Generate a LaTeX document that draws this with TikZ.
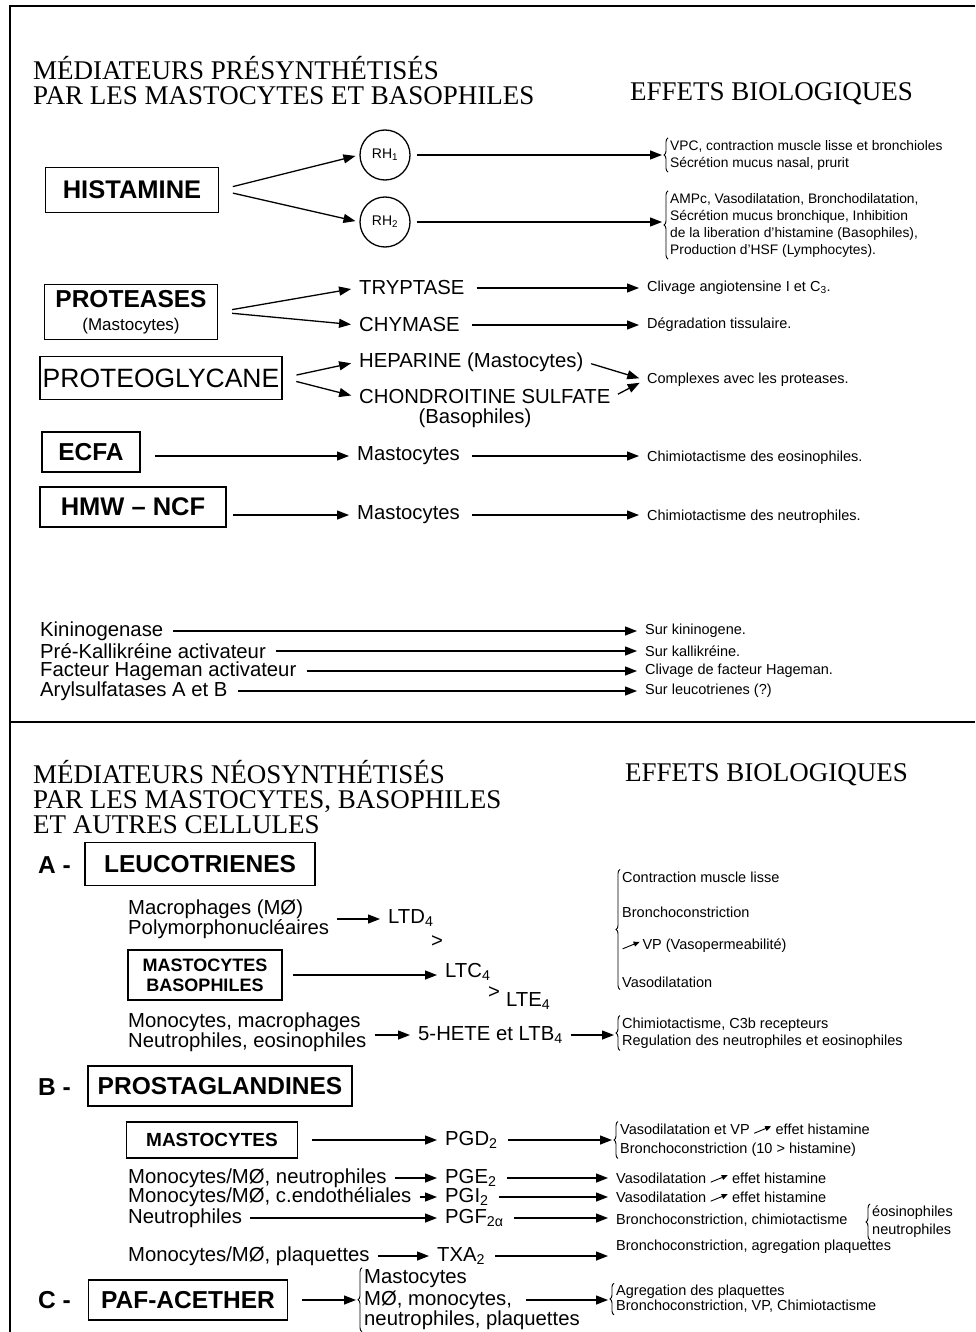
\documentclass[tikz,border=0pt]{standalone}
\usepackage{fontspec}
\setmainfont{Liberation Sans}
\newfontfamily\serifhead{Liberation Serif}
\usetikzlibrary{arrows.meta,calc,decorations.pathreplacing}

% font sizes (1 unit = 1pt = one pixel of the page)
\newcommand\bodysize{\fontsize{20.3}{20}\selectfont}
\newcommand\effsize{\fontsize{14.5}{17}\selectfont}
\newcommand\boxsize{\fontsize{24.5}{26}\selectfont\bfseries}
\newcommand\headsize{\serifhead\fontsize{27}{25}\selectfont}
% small rising arrow inside effect texts
\newcommand\incr{\tikz[baseline=-1pt,x=1pt,y=1pt]\draw[line width=0.9pt,-{Triangle[length=6pt,width=5pt]}] (0,0) -- (17,7);}

\tikzset{
  medbox/.style={draw, line width=1.5pt, inner sep=0pt, font=\boxsize},
  lbl/.style={anchor=west, inner sep=2pt, font=\bodysize},
  eff/.style={anchor=west, inner sep=2pt, font=\effsize, align=left},
  head/.style={anchor=west, inner sep=0pt, align=left, font=\headsize},
  rec/.style={draw, circle, line width=1.3pt, minimum size=50pt, inner sep=0pt,
              font=\fontsize{14}{14}\selectfont},
  flow/.style={-{Triangle[length=12pt,width=9pt]}, line width=1.3pt,
               shorten <=6pt, shorten >=6pt},
  cbrace/.style={decorate, decoration={brace, amplitude=4pt}, line width=0.9pt},
}

\begin{document}
\begin{tikzpicture}[x=1pt, y=-1pt]   % y runs down the page

\useasboundingbox (0,0) rectangle (975,1332);

% ---------------------------------------------------------------
% Frame
\draw[line width=1.8pt] (975,6) -- (10,6) -- (10,1332);
\draw[line width=1.8pt] (10,722) -- (975,722);   % divider

% ---------------------------------------------------------------
% Mediateurs presynthetises
\node[head] (titleA) at (33,81) {MÉDIATEURS PRÉSYNTHÉTISÉS\\PAR LES MASTOCYTES ET BASOPHILES};
\node[head] (effA)   at (630,94) {EFFETS BIOLOGIQUES};

% Histamine and its receptors
\node[medbox, minimum width=173, minimum height=45, font=\fontsize{25.5}{26}\selectfont\bfseries] (hist) at (132,190) {HISTAMINE};
\node[rec] (rhA) at (385,155) {RH\textsubscript{1}};
\node[rec] (rhB) at (385,222) {RH\textsubscript{2}};
\draw[flow, shorten <=14pt, shorten >=4pt] (hist.east) -- (rhA.west);
\draw[flow, shorten <=14pt, shorten >=4pt] (hist.east) -- (rhB.west);

\node[eff, font=\fontsize{13.8}{17}\selectfont] (effRHA) at (668,155) {VPC, contraction muscle lisse et bronchioles\\Sécrétion mucus nasal, prurit};
\node[eff, font=\fontsize{13.8}{17}\selectfont] (effRHB) at (668,225) {AMPc, Vasodilatation, Bronchodilatation,\\Sécrétion mucus bronchique, Inhibition\\de la liberation d'histamine (Basophiles),\\Production d'HSF (Lymphocytes).};
\draw[cbrace] (effRHA.south west) -- (effRHA.north west);
\draw[cbrace] (effRHB.south west) -- (effRHB.north west);
\draw[flow] (rhA.east) -- (rhA.east -| effRHA.west);
\draw[flow] (rhB.east) -- (rhB.east -| effRHB.west);

% Proteases
\node[medbox, minimum width=173, minimum height=55, align=center] (prot) at (131,312)
     {PROTEASES\\[-3pt]{\mdseries\fontsize{17}{17}\selectfont(Mastocytes)}};
\node[lbl] (tryp) at (357,288) {TRYPTASE};
\node[lbl] (chym) at (357,325) {CHYMASE};
\draw[flow, shorten <=14pt] (prot.east) -- (tryp.west);
\draw[flow, shorten <=14pt] (prot.east) -- (chym.west);
\node[eff] (effTryp) at (645,288) {Clivage angiotensine I et C\textsubscript{3}.};
\node[eff] (effChym) at (645,325) {Dégradation tissulaire.};
\draw[flow, shorten <=10pt] (tryp.east) -- (tryp.east -| effTryp.west);
\draw[flow, shorten <=10pt] (chym.east) -- (chym.east -| effChym.west);

% Proteoglycane
\node[medbox, minimum width=242, minimum height=43, inner xsep=2pt,
      font=\fontsize{26.5}{26}\selectfont] (pgly) at (161,378) {PROTEOGLYCANE};
\node[lbl] (hep)  at (357,362) {HEPARINE (Mastocytes)};
\node[lbl] (chon) at (357,397) {CHONDROITINE SULFATE};
\node[lbl, anchor=center] (baso) at (475,418) {(Basophiles)};
\draw[flow, shorten <=14pt] (pgly.east) -- (hep.west);
\draw[flow, shorten <=14pt] (pgly.east) -- (chon.west);
\node[eff] (effPgly) at (645,380) {Complexes avec les proteases.};
\draw[flow] (hep.east) -- (effPgly.west);
\draw[flow] (chon.east) -- (effPgly.west);

% ECFA
\node[medbox, minimum width=98, minimum height=40] (ecfa) at (91,452) {ECFA};
\node[lbl] (mastE) at (355,456) {Mastocytes};
\draw[flow, shorten <=14pt] (ecfa.east |- mastE.west) -- (mastE.west);
\node[eff] (effE) at (645,458) {Chimiotactisme des eosinophiles.};
\draw[flow, shorten <=10pt] (mastE.east) -- (mastE.east -| effE.west);

% HMW-NCF
\node[medbox, minimum width=186, minimum height=40, font=\fontsize{25.5}{26}\selectfont\bfseries] (hmw) at (133,507) {HMW – NCF};
\node[lbl] (mastN) at (355,515) {Mastocytes};
\draw[flow] (hmw.east |- mastN.west) -- (mastN.west);
\node[eff] (effN) at (645,517) {Chimiotactisme des neutrophiles.};
\draw[flow, shorten <=10pt] (mastN.east) -- (mastN.east -| effN.west);

% Enzymes
\node[lbl] (kin)  at (38,631) {Kininogenase};
\node[lbl] (kal)  at (38,651) {Pré-Kallikréine activateur};
\node[lbl] (hag)  at (38,671) {Facteur Hageman activateur};
\node[lbl] (aryl) at (38,691) {Arylsulfatases A et B};
\node[eff] (effKin)  at (643,631) {Sur kininogene.};
\node[eff] (effKal)  at (643,651) {Sur kallikréine.};
\node[eff] (effHag)  at (643,671) {Clivage de facteur Hageman.};
\node[eff] (effAryl) at (643,691) {Sur leucotrienes (?)};
\foreach \a/\b in {kin/effKin, kal/effKal, hag/effHag, aryl/effAryl}
  \draw[flow, shorten <=8pt] (\a.east) -- (\a.east -| \b.west);

% ---------------------------------------------------------------
% Mediateurs neosynthetises
\node[head] (titleB) at (33,797) {MÉDIATEURS NÉOSYNTHÉTISÉS\\PAR LES MASTOCYTES, BASOPHILES\\ET AUTRES CELLULES};
\node[head] (effB)   at (625,775) {EFFETS BIOLOGIQUES};

% A - leucotrienes
\node[lbl, font=\boxsize] (secA) at (36,865) {A -};
\node[medbox, minimum width=230, minimum height=43] (leuco) at (200,864) {LEUCOTRIENES};
\node[lbl, align=left, font=\fontsize{20.3}{17}\selectfont] (macro) at (126,919) {Macrophages (MØ)\\Polymorphonucléaires};
\node[lbl] (ltd) at (386,918) {LTD\textsubscript{4}};
\draw[flow] (macro.east) -- (macro.east -| ltd.west);
\node[lbl, anchor=center] (gtA) at (437,942) {>};
\node[medbox, minimum width=154, minimum height=50, align=center,
      font=\fontsize{18}{20}\selectfont\bfseries] (mastbaso) at (205,975) {MASTOCYTES\\BASOPHILES};
\node[lbl] (ltc) at (443,972) {LTC\textsubscript{4}};
\draw[flow, shorten <=10pt] (mastbaso.east) -- (mastbaso.east -| ltc.west);
\node[lbl, anchor=center] (gtB) at (494,993) {>};
\node[lbl] (lte) at (504,1001) {LTE\textsubscript{4}};
\node[lbl, align=left] (mono) at (126,1032) {Monocytes, macrophages\\Neutrophiles, eosinophiles};
\node[lbl] (hete) at (416,1035) {5-HETE et LTB\textsubscript{4}};
\draw[flow] (mono.east |- hete.west) -- (hete.west);

\node[eff] (lc1) at (620,877) {Contraction muscle lisse};
\node[eff] (lc2) at (620,912) {Bronchoconstriction};
\node[eff] (lc3) at (620,946) {\incr\,VP (Vasopermeabilité)};
\node[eff] (lc4) at (620,982) {Vasodilatation};
\draw[cbrace] (lc4.south west) -- (lc1.north west);

\node[eff] (effHete) at (620,1033) {Chimiotactisme, C3b recepteurs\\Regulation des neutrophiles et eosinophiles};
\draw[cbrace] (effHete.south west) -- (effHete.north west);
\draw[flow] (hete.east) -- (hete.east -| effHete.west);

% B - prostaglandines
\node[lbl, font=\boxsize] (secB) at (36,1087) {B -};
\node[medbox, minimum width=264, minimum height=40] (prosta) at (220,1086) {PROSTAGLANDINES};
\node[medbox, minimum width=171, minimum height=36,
      font=\fontsize{19}{19}\selectfont\bfseries] (mastP) at (212,1140) {MASTOCYTES};
\node[lbl] (pgd) at (443,1140) {PGD\textsubscript{2}};
\draw[flow, shorten <=14pt] (mastP.east) -- (mastP.east -| pgd.west);
\node[eff, font=\fontsize{14.5}{19}\selectfont] (effPgd) at (618,1140)
     {Vasodilatation et VP \incr\ effet histamine\\Bronchoconstriction (10 > histamine)};
\draw[cbrace] (effPgd.south west) -- (effPgd.north west);
\draw[flow, shorten <=8pt] (pgd.east) -- (pgd.east -| effPgd.west);

\node[lbl] (srcE) at (126,1178) {Monocytes/MØ, neutrophiles};
\node[lbl] (pge)  at (443,1178) {PGE\textsubscript{2}};
\node[eff] (effPge) at (614,1178) {Vasodilatation \incr\ effet histamine};
\node[lbl] (srcI) at (126,1197) {Monocytes/MØ, c.endothéliales};
\node[lbl] (pgi)  at (443,1197) {PGI\textsubscript{2}};
\node[eff] (effPgi) at (614,1197) {Vasodilatation \incr\ effet histamine};
\node[lbl] (srcF) at (126,1218) {Neutrophiles};
\node[lbl] (pgf)  at (443,1218) {PGF\textsubscript{2α}};
\node[eff] (effPgf) at (614,1220) {Bronchoconstriction, chimiotactisme};
\node[eff, font=\fontsize{14.5}{18}\selectfont] (effPgfB) at (870,1222) {éosinophiles\\neutrophiles};
\draw[cbrace] (effPgfB.south west) -- (effPgfB.north west);
\node[lbl] (srcT) at (126,1256) {Monocytes/MØ, plaquettes};
\node[lbl] (txa)  at (435,1256) {TXA\textsubscript{2}};
\node[eff] (effTxa) at (614,1247) {Bronchoconstriction, agregation plaquettes};
\foreach \s/\m/\e in {srcE/pge/effPge, srcI/pgi/effPgi, srcF/pgf/effPgf, srcT/txa/effTxa}{
  \draw[flow] (\s.east) -- (\s.east -| \m.west);
  \draw[flow, shorten <=8pt] (\m.east) -- (\m.east -| \e.west);
}

% C - PAF-acether
\node[lbl, font=\boxsize] (secC) at (36,1300) {C -};
\node[medbox, minimum width=199, minimum height=40] (paf) at (188,1300) {PAF-ACETHER};
\node[lbl] (cellA) at (362,1279) {Mastocytes};
\node[lbl] (cellB) at (362,1300) {MØ, monocytes,};
\node[lbl] (cellC) at (362,1320) {neutrophiles, plaquettes};
\draw[cbrace] (cellC.south west) -- (cellA.north west);
\draw[flow, shorten <=14pt] (paf.east) -- (paf.east -| cellB.west);
\node[eff, font=\fontsize{14.5}{15}\selectfont] (effPaf) at (614,1299)
     {Agregation des plaquettes\\Bronchoconstriction, VP, Chimiotactisme};
\draw[cbrace] (effPaf.south west) -- (effPaf.north west);
\draw[flow, shorten <=12pt] (cellB.east) -- (cellB.east -| effPaf.west);

\end{tikzpicture}
\end{document}
